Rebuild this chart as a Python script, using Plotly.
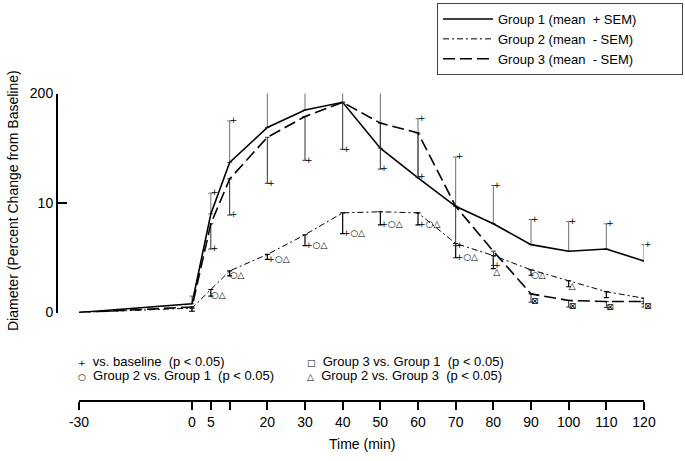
import plotly.graph_objects as go

# ---- data ----
time = [-30, 0, 5, 10, 20, 30, 40, 50, 60, 70, 80, 90, 100, 110, 120]
g1_mean = [0, 0.8, 9.0, 13.7, 16.9, 18.5, 19.2, 15.0, 12.3, 9.7, 8.1, 6.2, 5.6, 5.8, 4.7]
g1_sem = [None, 0.7, 1.9, 3.8, 5.4, 5.8, 6.9, 6.4, 5.4, 4.5, 3.5, 2.3, 2.7, 2.3, 1.5]
g2_mean = [0, 0.4, 2.1, 3.8, 5.3, 7.1, 9.1, 9.2, 9.1, 6.3, 5.2, 3.9, 2.9, 1.9, 1.3]
g2_sem = [None, 0.3, 0.6, 0.45, 0.45, 1.0, 1.9, 1.2, 1.1, 1.3, 1.2, 0.5, 0.55, 0.55, 0.5]
g3_mean = [0, 0.5, 8.1, 12.2, 16.0, 17.9, 19.2, 17.3, 16.4, 9.7, 5.6, 1.7, 1.1, 1.0, 1.0]
g3_sem = [None, 0.4, 2.3, 3.3, 4.2, 4.0, 4.3, 4.2, 4.0, 3.6, 1.3, 0.75, 0.6, 0.55, 0.5]

g1_sig = ["", "", "+", "+", "+", "+", "+", "+", "+", "+", "+", "+", "+", "+", "+"]
g2_sig = ["", "", "○△", "○△", "+○△", "+○△", "+○△", "+○△", "+○△", "+○△", "△", "○△", "△", "", ""]
g3_sig = ["", "", "+", "+", "+", "+", "+", "+", "+", "+", "+", "⊠", "⊠", "⊠", "⊠"]

names = ["Group 1 (mean\u00a0 + SEM)", "Group 2 (mean\u00a0 - SEM)", "Group 3 (mean\u00a0 - SEM)"]

x_tickvals = [-30, 0, 5, 10, 20, 30, 40, 50, 60, 70, 80, 90, 100, 110, 120]
x_ticktext = ["-30", "0", "5", "", "20", "30", "40", "50", "60", "70", "80", "90", "100", "110", "120"]
y_tickvals = [0, 10, 20]
y_ticktext = ["0", "10", "200"]

sig_symbols = ["+", "○", "□", "△"]
sig_labels = ["vs. baseline\u00a0 (p < 0.05)", "Group 2 vs. Group 1\u00a0 (p < 0.05)",
              "Group 3 vs. Group 1\u00a0 (p < 0.05)", "Group 2 vs. Group 3\u00a0 (p < 0.05)"]
sig_pos = [(76, 361), (76, 375), (305, 361), (305, 375)]

W, H = 685, 461
FONT = "Liberation Sans, Arial, sans-serif"
SYMFONT = "DejaVu Sans, sans-serif"


def px(x):
    return x / W


def py(y):
    return 1 - y / H


zeros = [0 if v is not None else None for v in g1_sem]
pad = "\u00a0" * 11

fig = go.Figure()

fig.add_trace(go.Scatter(
    x=time, y=g1_mean, mode="lines", name=names[0] + pad,
    line=dict(color="black", width=1.6),
    error_y=dict(type="data", symmetric=False, array=g1_sem, arrayminus=zeros,
                 color="#707070", thickness=1, width=2.5),
    cliponaxis=False,
))
fig.add_trace(go.Scatter(
    x=time, y=g2_mean, mode="lines", name=names[1] + pad,
    line=dict(color="black", width=1, dash="6px,3px,2px,3px"),
    error_y=dict(type="data", symmetric=False, array=zeros, arrayminus=g2_sem,
                 color="black", thickness=1.2, width=2.5),
    cliponaxis=False,
))
fig.add_trace(go.Scatter(
    x=time, y=g3_mean, mode="lines", name=names[2] + pad,
    line=dict(color="black", width=1.6, dash="12px,5px"),
    error_y=dict(type="data", symmetric=False, array=zeros, arrayminus=g3_sem,
                 color="#303030", thickness=1, width=2.5),
    cliponaxis=False,
))


def ends(mean, sem, sign):
    return [m + sign * (s or 0) for m, s in zip(mean, sem)]


g2_textpos = ["bottom right" if t == 80 else "middle right" for t in time]

for ys, txt, tp in [(ends(g1_mean, g1_sem, 1), g1_sig, "middle right"),
                    (ends(g2_mean, g2_sem, -1), g2_sig, g2_textpos),
                    (ends(g3_mean, g3_sem, -1), g3_sig, "middle right")]:
    fig.add_trace(go.Scatter(
        x=time, y=ys, mode="text", text=txt, textposition=tp,
        textfont=dict(family=SYMFONT, size=9, color="black"),
        showlegend=False, hoverinfo="skip", cliponaxis=False,
    ))

annotations = [
    dict(text="Diameter (Percent Change from Baseline)", x=px(13), y=py(201),
         xref="paper", yref="paper", showarrow=False, textangle=-90,
         font=dict(family=FONT, size=14, color="black"), xanchor="center", yanchor="middle"),
    dict(text="Time (min)", x=px(362), y=py(444), xref="paper", yref="paper",
         showarrow=False, font=dict(family=FONT, size=14, color="black"),
         xanchor="center", yanchor="middle"),
]
for sym, lab, (x0, y0) in zip(sig_symbols, sig_labels, sig_pos):
    annotations.append(dict(
        text=f"<span style='font-family:DejaVu Sans;font-size:9px'>{sym}</span>\u00a0 {lab}",
        x=px(x0), y=py(y0), xref="paper", yref="paper",
        showarrow=False, xanchor="left", yanchor="middle",
        font=dict(family=FONT, size=13, color="black")))

fig.update_layout(
    width=W, height=H,
    margin=dict(l=0, r=0, t=0, b=0, autoexpand=False),
    paper_bgcolor="white", plot_bgcolor="white",
    font=dict(family=FONT, size=14, color="black"),
    xaxis=dict(
        domain=[px(79), px(644)], range=[-30, 120], anchor="free", position=py(401),
        showline=True, linecolor="black", linewidth=2, mirror=False,
        ticks="outside", ticklen=8, tickwidth=2, tickcolor="black",
        tickvals=x_tickvals, ticktext=x_ticktext, showgrid=False, zeroline=False,
        tickfont=dict(size=14), automargin=False,
    ),
    yaxis=dict(
        domain=[py(312.5), py(93.5)], range=[0, 20], anchor="free", position=px(57),
        showline=True, linecolor="black", linewidth=2,
        ticks="inside", ticklen=9, tickwidth=2, tickcolor="black",
        tickvals=y_tickvals, ticktext=y_ticktext, showgrid=False, zeroline=False,
        tickfont=dict(size=14), automargin=False,
    ),
    legend=dict(x=px(437), y=py(3), xanchor="left", yanchor="top",
                bordercolor="#444", borderwidth=1, bgcolor="white",
                font=dict(family=FONT, size=13, color="black"),
                tracegroupgap=0, itemwidth=50),
    annotations=annotations,
    showlegend=True,
)

fig.write_html("out.html", config={"displayModeBar": False},
               post_script="document.body.style.margin='0';")
